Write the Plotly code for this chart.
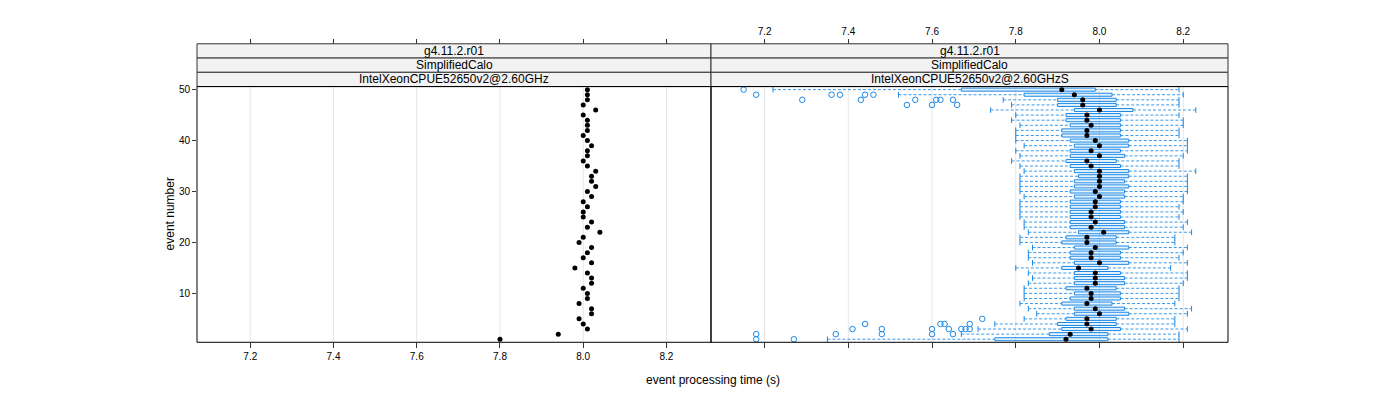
import plotly.graph_objects as go

# ---------------- data ----------------
events = list(range(1, 51))

# left panel: one value per event (IntelXeonCPUE52650v2@2.60GHz)
left_vals = [7.80, 7.94, 8.01, 8.00, 7.99, 8.02, 8.02, 7.99, 8.01, 8.01,
             8.00, 8.02, 8.02, 8.01, 7.98, 8.02, 8.00, 8.01, 8.02, 7.99,
             8.00, 8.04, 8.01, 8.02, 8.00, 8.00, 8.01, 8.00, 8.02, 8.01,
             8.03, 8.02, 8.02, 8.03, 8.01, 8.00, 8.01, 8.01, 8.02, 8.01,
             8.00, 8.01, 8.01, 8.01, 8.00, 8.03, 8.00, 8.01, 8.01, 8.01]

# right panel: box statistics per event (IntelXeonCPUE52650v2@2.60GHzS)
lower_whisker = [7.35, 7.67, 7.71, 7.75, 7.82, 7.85, 7.83, 7.81, 7.82, 7.82,
                 7.82, 7.83, 7.84, 7.83, 7.80, 7.84, 7.83, 7.83, 7.84, 7.81,
                 7.81, 7.83, 7.82, 7.82, 7.81, 7.81, 7.81, 7.81, 7.82, 7.81,
                 7.81, 7.81, 7.81, 7.82, 7.81, 7.79, 7.81, 7.80, 7.82, 7.80,
                 7.80, 7.80, 7.81, 7.79, 7.80, 7.74, 7.79, 7.77, 7.52, 7.22]
q1 = [7.75, 7.88, 7.91, 7.90, 7.92, 7.94, 7.94, 7.91, 7.93, 7.94,
      7.92, 7.94, 7.94, 7.94, 7.91, 7.94, 7.93, 7.93, 7.94, 7.91,
      7.92, 7.95, 7.93, 7.93, 7.93, 7.93, 7.93, 7.93, 7.94, 7.93,
      7.94, 7.94, 7.95, 7.94, 7.93, 7.92, 7.93, 7.93, 7.94, 7.93,
      7.91, 7.91, 7.93, 7.92, 7.92, 7.94, 7.90, 7.90, 7.82, 7.67]
median = [7.92, 7.93, 7.98, 7.97, 7.97, 8.00, 7.99, 7.97, 7.98, 7.98,
          7.97, 7.99, 7.99, 7.99, 7.95, 8.00, 7.98, 7.98, 7.99, 7.97,
          7.97, 8.01, 7.98, 7.99, 7.98, 7.98, 7.99, 7.99, 8.00, 7.99,
          8.00, 8.00, 8.00, 8.00, 7.98, 7.97, 8.00, 7.98, 8.00, 7.99,
          7.97, 7.97, 7.98, 7.97, 7.97, 8.00, 7.96, 7.96, 7.94, 7.91]
q3 = [8.02, 8.02, 8.05, 8.04, 8.04, 8.07, 8.06, 8.03, 8.05, 8.05,
      8.04, 8.06, 8.06, 8.05, 8.02, 8.07, 8.05, 8.05, 8.07, 8.04,
      8.04, 8.07, 8.06, 8.06, 8.05, 8.05, 8.05, 8.05, 8.06, 8.06,
      8.07, 8.06, 8.07, 8.07, 8.05, 8.04, 8.06, 8.05, 8.07, 8.07,
      8.05, 8.05, 8.05, 8.05, 8.05, 8.08, 8.04, 8.04, 8.03, 7.99]
upper_whisker = [8.19, 8.19, 8.21, 8.18, 8.18, 8.21, 8.22, 8.18, 8.19, 8.19,
                 8.19, 8.20, 8.21, 8.21, 8.17, 8.21, 8.19, 8.20, 8.21, 8.18,
                 8.18, 8.22, 8.20, 8.21, 8.19, 8.20, 8.19, 8.20, 8.20, 8.21,
                 8.21, 8.21, 8.21, 8.23, 8.19, 8.19, 8.20, 8.21, 8.21, 8.21,
                 8.19, 8.19, 8.20, 8.20, 8.19, 8.23, 8.19, 8.19, 8.20, 8.19]

outlier_event = [50,
                 49, 49, 49, 49, 49,
                 48, 48, 48, 48, 48, 48,
                 47, 47, 47,
                 5,
                 4, 4, 4, 4,
                 3, 3, 3, 3, 3, 3, 3,
                 2, 2, 2, 2, 2,
                 1, 1]
outlier_value = [7.15,
                 7.18, 7.36, 7.38, 7.44, 7.46,
                 7.29, 7.43, 7.56, 7.61, 7.62, 7.65,
                 7.54, 7.60, 7.66,
                 7.72,
                 7.44, 7.62, 7.63, 7.69,
                 7.41, 7.48, 7.60, 7.64, 7.67, 7.68, 7.69,
                 7.18, 7.37, 7.48, 7.60, 7.65,
                 7.18, 7.27]

x_ticks = [7.2, 7.4, 7.6, 7.8, 8.0, 8.2]
x_tick_text = ["7.2", "7.4", "7.6", "7.8", "8.0", "8.2"]
y_ticks = [10, 20, 30, 40, 50]
strip_rows = ["g4.11.2.r01", "SimplifiedCalo"]
panel_names = ["IntelXeonCPUE52650v2@2.60GHz", "IntelXeonCPUE52650v2@2.60GHzS"]

# ---------------- style / layout constants ----------------
W, H = 1400, 400
BLUE = "#1a88e6"
FONT = "Liberation Sans, Arial, Helvetica, sans-serif"
XRANGE = [7.072, 8.307]
YRANGE = [0.4, 50.6]

px0, pxm, px1 = 197, 711, 1228      # panel edges (pixels)
py_top, py_bot = 85, 342             # panel top / bottom (pixels)
strip_top = 42
strip_h = (py_top - strip_top) / 3.0

def fx(p):
    return p / W

def fy(p):
    return 1 - p / H

fig = go.Figure()

# left panel dots
fig.add_trace(go.Scatter(x=left_vals, y=events, mode="markers",
                         marker=dict(color="black", size=5),
                         xaxis="x", yaxis="y", hoverinfo="x+y"))

# whiskers (dashed)
wx, wy = [], []
for e, lo, a, b, hi in zip(events, lower_whisker, q1, q3, upper_whisker):
    wx += [lo, a, None, b, hi, None]
    wy += [e, e, None, e, e, None]
fig.add_trace(go.Scatter(x=wx, y=wy, mode="lines",
                         line=dict(color=BLUE, width=1, dash="3px,2px"),
                         opacity=0.85,
                         xaxis="x2", yaxis="y", hoverinfo="skip"))
# whisker caps
fig.add_trace(go.Scatter(x=lower_whisker + upper_whisker, y=events + events,
                         mode="markers",
                         marker=dict(symbol="line-ns", size=4, color=BLUE,
                                     line=dict(color=BLUE, width=1)),
                         xaxis="x2", yaxis="y", hoverinfo="skip"))
# boxes
fig.add_trace(go.Bar(y=events, base=q1, x=[b - a for a, b in zip(q1, q3)],
                     orientation="h", width=0.6,
                     marker=dict(color="rgba(26,136,230,0.12)",
                                 line=dict(color=BLUE, width=1)),
                     xaxis="x2", yaxis="y", hoverinfo="skip"))
# outliers
fig.add_trace(go.Scatter(x=outlier_value, y=outlier_event, mode="markers",
                         marker=dict(symbol="circle-open", size=5.5, color=BLUE,
                                     line=dict(color=BLUE, width=1)),
                         xaxis="x2", yaxis="y"))
# medians
fig.add_trace(go.Scatter(x=median, y=events, mode="markers",
                         marker=dict(color="black", size=5),
                         xaxis="x2", yaxis="y"))
# invisible copies so that the top axes (above the strips) are drawn
fig.add_trace(go.Scatter(x=left_vals, y=events, mode="markers",
                         marker=dict(opacity=0), xaxis="x3", yaxis="y",
                         hoverinfo="skip"))
fig.add_trace(go.Scatter(x=median, y=events, mode="markers",
                         marker=dict(opacity=0), xaxis="x4", yaxis="y",
                         hoverinfo="skip"))

tickfont = dict(family=FONT, size=10, color="black")
common_x = dict(range=XRANGE, tickvals=x_ticks, ticktext=x_tick_text,
                showgrid=False, zeroline=False, ticks="outside", ticklen=5,
                tickcolor="#333333", tickfont=tickfont, fixedrange=True)

fig.update_layout(
    width=W, height=H,
    margin=dict(l=0, r=0, t=0, b=0),
    paper_bgcolor="white", plot_bgcolor="white",
    showlegend=False, barmode="overlay",
    xaxis=dict(domain=[fx(px0), fx(pxm)], anchor="y", side="bottom",
               showticklabels=True, **common_x),
    xaxis2=dict(domain=[fx(pxm), fx(px1)], anchor="y", side="bottom",
                showticklabels=False, **common_x),
    xaxis3=dict(domain=[fx(px0), fx(pxm)], anchor="free", overlaying="x",
                position=fy(strip_top), side="top", showticklabels=False,
                **common_x),
    xaxis4=dict(domain=[fx(pxm), fx(px1)], anchor="free", overlaying="x2",
                position=fy(strip_top), side="top", showticklabels=True,
                **common_x),
    yaxis=dict(domain=[fy(py_bot), fy(py_top)], range=YRANGE, anchor="x",
               tickvals=y_ticks, ticks="outside", ticklen=4,
               tickcolor="#333333", showgrid=False, zeroline=False,
               tickfont=tickfont, fixedrange=True),
)

shapes = []
# vertical grid lines in both panels
for xr in ["x", "x2"]:
    for t in x_ticks:
        shapes.append(dict(type="line", xref=xr, yref="paper", x0=t, x1=t,
                           y0=fy(py_bot), y1=fy(py_top),
                           line=dict(color="#e6e6e6", width=1), layer="below"))
annotations = []
for (a, b), name in zip([(px0, pxm), (pxm, px1)], panel_names):
    labels = strip_rows + [name]
    for i, lab in enumerate(labels):
        t = strip_top + i * strip_h
        shapes.append(dict(type="rect", xref="paper", yref="paper",
                           x0=fx(a), x1=fx(b), y0=fy(t + strip_h), y1=fy(t),
                           fillcolor="#f2f2f2", line=dict(color="#333333", width=1)))
        annotations.append(dict(text=lab, xref="paper", yref="paper",
                                x=fx((a + b) / 2), y=fy(t + strip_h / 2),
                                showarrow=False, xanchor="center", yanchor="middle",
                                font=dict(family=FONT, size=12, color="black")))
    shapes.append(dict(type="rect", xref="paper", yref="paper",
                       x0=fx(a), x1=fx(b), y0=fy(py_bot), y1=fy(py_top),
                       line=dict(color="black", width=1)))

annotations.append(dict(text="event processing time (s)", xref="paper", yref="paper",
                        x=fx((px0 + px1) / 2), y=fy(380), showarrow=False,
                        xanchor="center", yanchor="middle",
                        font=dict(family=FONT, size=12, color="black")))
annotations.append(dict(text="event number", xref="paper", yref="paper",
                        x=fx(170), y=fy((py_top + py_bot) / 2), showarrow=False,
                        textangle=-90, xanchor="center", yanchor="middle",
                        font=dict(family=FONT, size=12, color="black")))

fig.update_layout(shapes=shapes, annotations=annotations)
fig.write_html("out.html")
